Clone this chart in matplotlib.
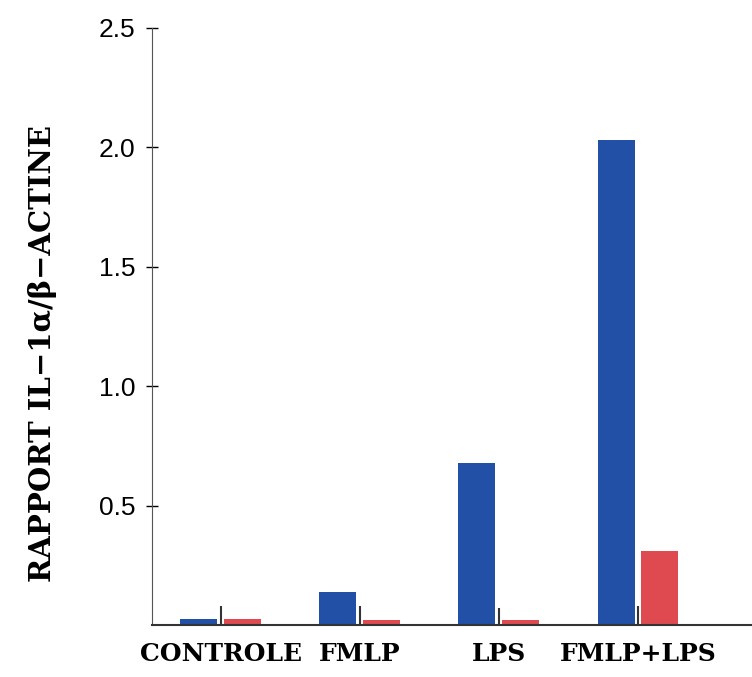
import numpy as np
import matplotlib.pyplot as plt

# data
groups = ["CONTROLE", "FMLP", "LPS", "FMLP+LPS"]
blue_vals = [0.025, 0.14, 0.68, 2.03]
red_vals = [0.025, 0.02, 0.02, 0.31]
err_vals = [0.08, 0.08, 0.07, 0.08]

fig = plt.figure(figsize=(7.52, 6.77), dpi=100)
ax = fig.add_axes([0.202, 0.0768, 0.798, 0.882])

x = np.arange(len(groups))
w = 0.266
off = 0.158
ax.bar(x - off, blue_vals, w, color="#2250a6")
ax.bar(x + off, red_vals, w, color="#de4a4f")
# small error marks between the bars
ax.vlines(x, 0, err_vals, color="#333333", lw=1.5)

ax.set_xlim(-0.496, 3.82)
ax.set_ylim(0, 2.5)
ax.set_yticks([0.5, 1.0, 1.5, 2.0, 2.5])
ax.set_yticklabels(["0.5", "1.0", "1.5", "2.0", "2.5"], family="Liberation Sans", fontsize=19)
ax.set_xticks(x)
ax.set_xticklabels(groups, family="DejaVu Serif", fontweight="bold", fontsize=18)
ax.tick_params(axis="x", length=0, pad=12)
ax.tick_params(axis="y", direction="inout", length=8, width=1, pad=8)

ax.spines["top"].set_visible(False)
ax.spines["right"].set_visible(False)
ax.spines["left"].set_color("#555555")
ax.spines["bottom"].set_color("#333333")
ax.spines["bottom"].set_linewidth(1.5)

ax.set_ylabel("RAPPORT IL\u22121\u03b1/\u03b2\u2212ACTINE", family="DejaVu Serif",
              fontweight="bold", fontsize=21)
ax.yaxis.set_label_coords(-0.158, 0.455)

plt.savefig("out.png", dpi=100)
